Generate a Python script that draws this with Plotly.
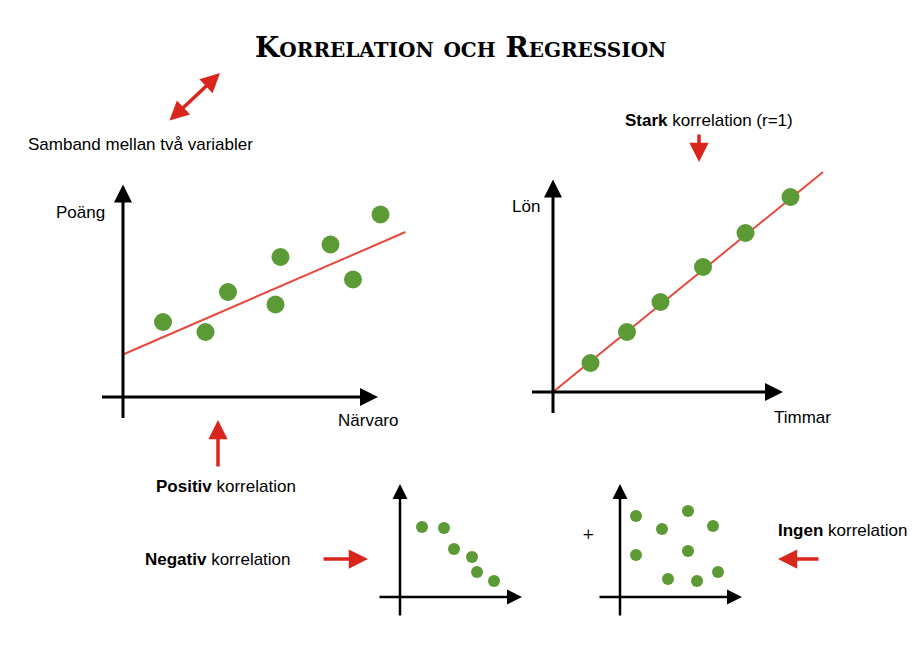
import plotly.graph_objects as go

W, H = 919, 648
OFF = 8  # page margin offset
green = '#5b9a34'
red = '#d9261c'

def px(x, y):
    return (x - OFF) / W, 1 - (y - OFF) / H

def dom_x(a, b):
    return [(a - OFF) / W, (b - OFF) / W]

def dom_y(bottom, top):
    return [1 - (bottom - OFF) / H, 1 - (top - OFF) / H]

# panel data (x, y values in each panel's own units)
positiv_x = [1.6, 3.3, 4.2, 6.1, 6.3, 8.3, 9.2, 10.3]
positiv_y = [3.0, 2.6, 4.2, 3.7, 5.6, 6.1, 4.7, 7.3]
stark_x = [1.5, 2.96, 4.3, 6.0, 7.7, 9.5]
stark_y = [1.16, 2.4, 3.6, 5.0, 6.36, 7.8]
negativ_x = [2.2, 4.4, 5.4, 7.2, 7.7, 9.4]
negativ_y = [7.0, 6.9, 4.8, 4.0, 2.5, 1.6]
ingen_x = [1.6, 4.2, 6.8, 9.3, 1.6, 6.8, 4.8, 7.7, 9.8]
ingen_y = [8.1, 6.8, 8.6, 7.1, 4.2, 4.6, 1.8, 1.6, 2.5]

fig = go.Figure()

# regression lines
fig.add_trace(go.Scatter(x=[0, 11.3], y=[1.7, 6.6], mode='lines', line=dict(color='#e8493d', width=2), xaxis='x', yaxis='y'))
fig.add_trace(go.Scatter(x=[0, 10.8], y=[0, 8.8], mode='lines', line=dict(color='#e8493d', width=2), xaxis='x2', yaxis='y2'))

# points
fig.add_trace(go.Scatter(x=positiv_x, y=positiv_y, mode='markers', marker=dict(color=green, size=18), xaxis='x', yaxis='y'))
fig.add_trace(go.Scatter(x=stark_x, y=stark_y, mode='markers', marker=dict(color=green, size=18), xaxis='x2', yaxis='y2'))
fig.add_trace(go.Scatter(x=negativ_x, y=negativ_y, mode='markers', marker=dict(color=green, size=12), xaxis='x3', yaxis='y3'))
fig.add_trace(go.Scatter(x=ingen_x, y=ingen_y, mode='markers', marker=dict(color=green, size=12), xaxis='x4', yaxis='y4'))

hidden = dict(visible=False, showgrid=False, zeroline=False)
fig.update_layout(
    width=W, height=H, margin=dict(l=0, r=0, t=0, b=0),
    plot_bgcolor='white', paper_bgcolor='white', showlegend=False,
    font=dict(family='Liberation Sans, Arial', color='black', size=17),
    xaxis=dict(range=[-1, 11.5], domain=dom_x(98, 410.5), **hidden),
    yaxis=dict(range=[-1.2, 9], domain=dom_y(427, 172), **hidden),
    xaxis2=dict(range=[-1.2, 11], domain=dom_x(523, 828), **hidden),
    yaxis2=dict(range=[-1.2, 9], domain=dom_y(422, 167), **hidden),
    xaxis3=dict(range=[-2.5, 12.5], domain=dom_x(375, 525), **hidden),
    yaxis3=dict(range=[-2.5, 12], domain=dom_y(622, 477), **hidden),
    xaxis4=dict(range=[-2.5, 12.5], domain=dom_x(595, 745), **hidden),
    yaxis4=dict(range=[-2.5, 12], domain=dom_y(622, 477), **hidden),
)

# black axis arrows
axes = [('', -0.9, 10.2, -0.9, 8.5, 3), ('2', -0.9, 9.2, -0.9, 8.5, 3),
        ('3', -2.2, 12.2, -2.0, 11.3, 2.5), ('4', -2.2, 12.2, -2.0, 11.3, 2.5)]
for s, x0, x1, y0, y1, w in axes:
    fig.add_annotation(x=x1, y=0, ax=x0, ay=0, xref='x' + s, yref='y' + s, axref='x' + s, ayref='y' + s,
                       text='', showarrow=True, arrowhead=2, arrowsize=1.2, arrowwidth=w, arrowcolor='black')
    fig.add_annotation(x=0, y=y1, ax=0, ay=y0, xref='x' + s, yref='y' + s, axref='x' + s, ayref='y' + s,
                       text='', showarrow=True, arrowhead=2, arrowsize=1.2, arrowwidth=w, arrowcolor='black')

# red arrows (head point, tail point in pixels)
for (hx, hy), (tx, ty), both in [((220, 73), (168, 122), True), ((218, 420), (218, 468), False),
                                 ((699, 162), (699, 133), False), ((368, 559), (322, 559), False),
                                 ((778, 559), (820, 559), False)]:
    x, y = px(hx, hy)
    fig.add_annotation(x=x, y=y, xref='paper', yref='paper', ax=tx - hx, ay=ty - hy, text='',
                       showarrow=True, arrowhead=2, arrowsize=1.1, arrowwidth=3.5, arrowcolor=red,
                       startarrowhead=2, startarrowsize=1.1, arrowside='end+start' if both else 'end')

# texts
texts = [
    (460, 47, 'Korrelation och Regression', dict(family='DejaVu Serif', size=28, weight='bold', variant='small-caps')),
    (140, 145, 'Samband mellan två variabler', {}),
    (80, 212, 'Poäng', {}),
    (368, 420, 'Närvaro', {}),
    (526, 207, 'Lön', {}),
    (802, 417, 'Timmar', {}),
    (709, 120, '<b>Stark</b> korrelation (r=1)', {}),
    (226, 487, '<b>Positiv</b> korrelation', {}),
    (218, 559, '<b>Negativ</b> korrelation', {}),
    (842, 530, '<b>Ingen</b> korrelation', {}),
    (588, 534, '+', dict(family='DejaVu Serif', size=15, color='black')),
]
for x, y, t, f in texts:
    xp, yp = px(x, y)
    fig.add_annotation(x=xp, y=yp, xref='paper', yref='paper', text=t, showarrow=False,
                       xanchor='center', yanchor='middle', font=f if f else None)

fig.write_html("out.html")
